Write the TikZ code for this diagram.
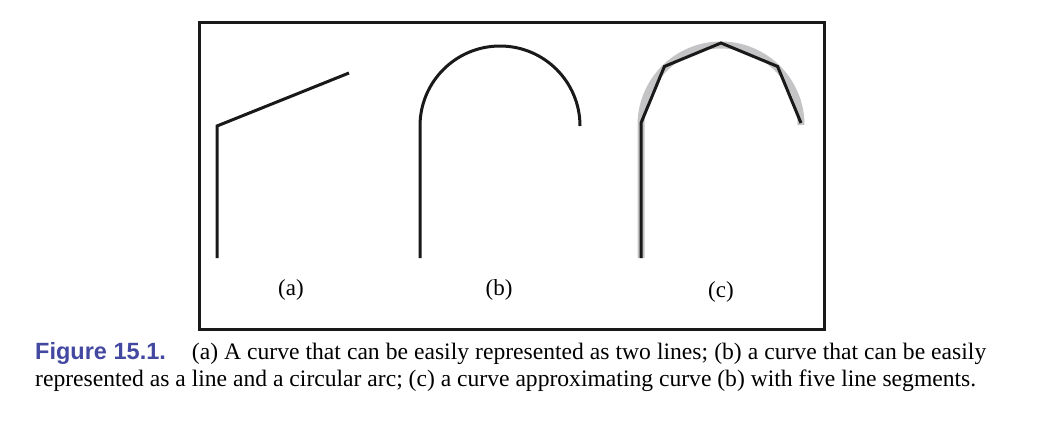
\documentclass[tikz,border=0pt]{standalone}
\usepackage{fontspec}
\setmainfont{Liberation Serif}
\newfontfamily\figfont{Liberation Sans}
\usetikzlibrary{positioning, calc}
\definecolor{figblue}{HTML}{4348A0}
\definecolor{approxgray}{HTML}{C4C4C6}

\begin{document}
\begin{tikzpicture}[
    x=1pt, y=-1pt,
    curve/.style={line width=3pt, draw=black!90, line join=miter},
    ghost/.style={line width=7pt, draw=approxgray},
    frame/.style={line width=2.8pt, draw=black!90},
    sublabel/.style={font=\fontsize{23}{26}\selectfont, inner sep=0pt}
]
    \useasboundingbox (0,0) rectangle (1039,421);
    % Frame
    \node (box) [frame, minimum width=625pt, minimum height=307pt, inner sep=0pt, anchor=north west] at (198,21) {};

    % (a) two lines
    \coordinate (a0) at (217,258);
    \coordinate (a1) at (217,126);
    \coordinate (a2) at (349,73);
    \draw [curve] (a0) -- (a1) -- (a2);

    % (b) line and circular arc
    \coordinate (b0) at (420,258);
    \coordinate (b1) at (420,126);
    \draw [curve] (b0) -- (b1) arc [start angle=180, end angle=360, radius=80];

    % (c) approximation with five segments
    \coordinate (c0) at (641,258);
    \coordinate (c1) at (641,125);
    \draw [ghost] (c0) -- (c1) arc [start angle=180, end angle=360, radius=80];
    \coordinate (cc) at (721,123);
    \draw [curve] (c0) -- (641,123)
        \foreach \ang in {225,270,315,360} { -- ($(cc)+(\ang:80)$) };

    % Labels
    \node (la) [sublabel] at (291,290) {(a)};
    \node (lb) [sublabel] at (499,290) {(b)};
    \node (lc) [sublabel] at (721,292) {(c)};

    % Caption
    \node (caption) [anchor=base west, inner sep=0pt, text width=951pt, align=justify,
        font=\fontsize{23.6}{27.5}\selectfont] at (35,359)
        {{\figfont\fontsize{23.5}{27}\selectfont\bfseries\color{figblue}Figure 15.1.}\hspace{26pt}(a) A curve that can be easily represented as two lines; (b) a curve that can be easily\linebreak represented as a line and a circular arc; (c) a curve approximating curve (b) with five line segments.};
\end{tikzpicture}
\end{document}
